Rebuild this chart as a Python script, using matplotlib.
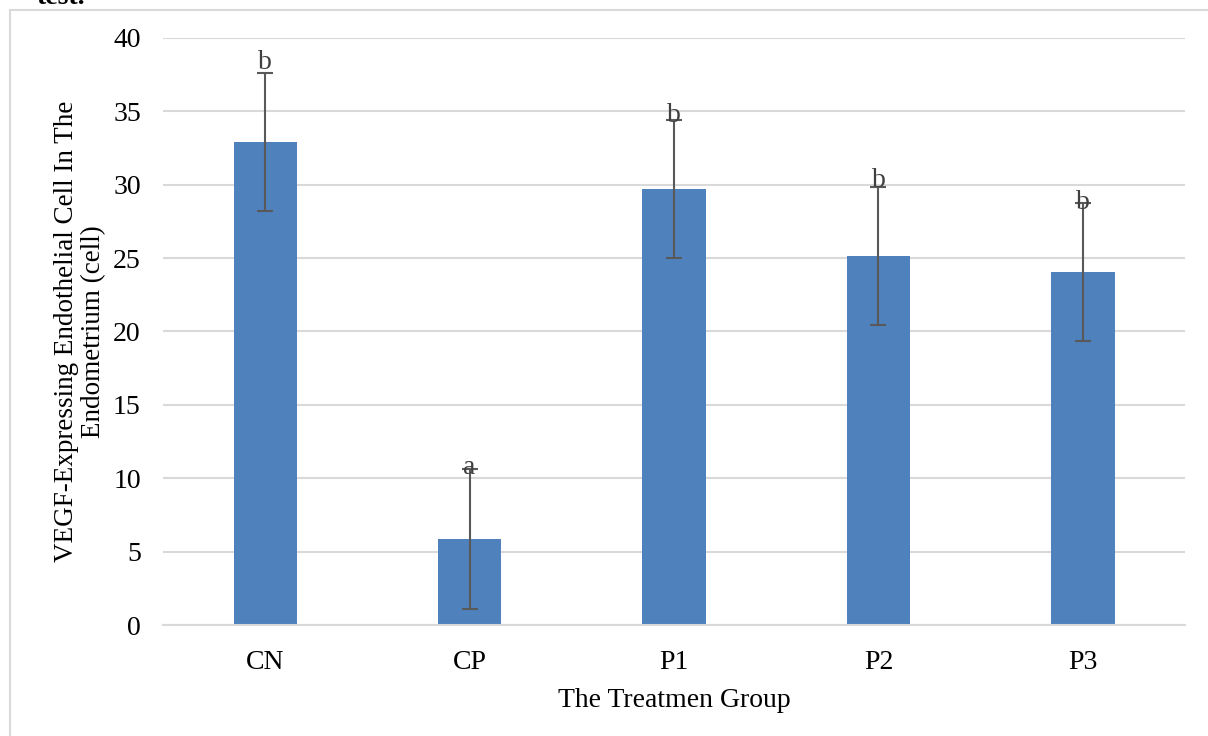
import numpy as np
import matplotlib.pyplot as plt
from matplotlib.patches import Rectangle

groups = ['CN', 'CP', 'P1', 'P2', 'P3']
means = [32.9, 5.86, 29.7, 25.15, 24.05]
errors = [4.7, 4.8, 4.7, 4.7, 4.7]
letters = ['b', 'a', 'b', 'b', 'b']
letter_y = [38.3, 10.7, 34.7, 30.3, 28.8]

plt.rcParams['font.family'] = ['Liberation Serif', 'DejaVu Serif']

fig = plt.figure(figsize=(12.08, 7.36), dpi=100)
ax = fig.add_axes([0.135, 0.1508, 0.846, 0.7976])

# frame around the chart, cut at right and bottom like the page crop
fig.patches.append(Rectangle((10 / 1208, -0.05), 1.1, 1 - 10 / 736 + 0.05,
                             transform=fig.transFigure, fill=False,
                             edgecolor='#D9D9D9', linewidth=1.5))
fig.text(0.03, 1.004, 'test.', fontsize=20, fontweight='bold', va='center')

x = np.arange(len(groups))
ax.bar(x, means, width=0.31, color='#4F81BD', zorder=2)
ax.errorbar(x, means, yerr=errors, fmt='none', ecolor='#595959',
            elinewidth=1.5, capsize=6, capthick=1.5, zorder=3)
for xi, yi, lab in zip(x, letter_y, letters):
    ax.text(xi, yi, lab, ha='center', va='center', fontsize=20, color='#404040', zorder=4)

ax.set_xlim(-0.5, len(groups) - 0.5)
ax.set_ylim(0, 40)
ax.set_yticks(np.arange(0, 41, 5))
ax.set_xticks(x)
ax.set_xticklabels(groups)
ax.yaxis.grid(True, color='#D9D9D9', linewidth=1.5, zorder=0)
ax.set_axisbelow(True)
for s in ['top', 'right', 'left']:
    ax.spines[s].set_visible(False)
ax.spines['bottom'].set_color('#D9D9D9')
ax.spines['bottom'].set_linewidth(1.5)
ax.tick_params(axis='both', length=0, labelsize=20, colors='black')
ax.tick_params(axis='y', pad=16)
ax.tick_params(axis='x', pad=18)

ax.set_xlabel('The Treatmen Group', fontsize=20, labelpad=9)
ax.set_ylabel('VEGF-Expressing Endothelial Cell In The\nEndometrium (cell)',
              fontsize=19.5, labelpad=5, linespacing=1.1)

fig.savefig('out.png', dpi=100)
